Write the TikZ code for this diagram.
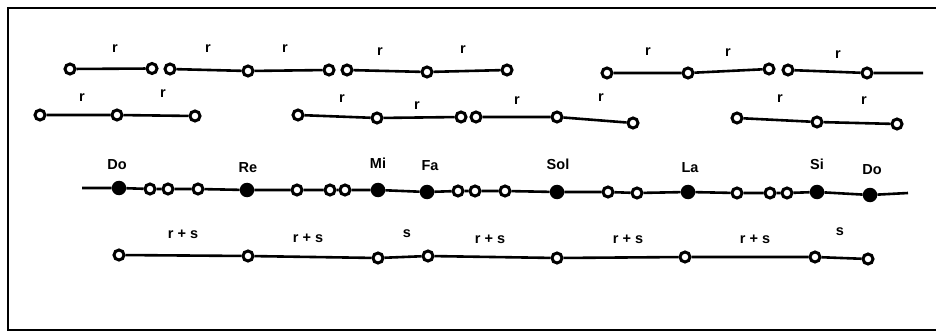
\documentclass[tikz,border=0pt]{standalone}
\usepackage{fontspec}
\setmainfont{Liberation Sans}
\begin{document}
\begin{tikzpicture}[x=1pt,y=-1pt,
  open/.style={circle,draw=black,fill=white,line width=3pt,inner sep=0pt,minimum size=10pt},
  full/.style={circle,fill=black,inner sep=0pt,minimum size=14.5pt},
  seg/.style={line width=2.6pt},
  lab/.style={anchor=base,font=\bfseries\fontsize{14.5}{16}\selectfont,inner sep=0pt}]
\useasboundingbox (0,0) rectangle (936,331);
\draw[line width=2.4pt] (950,8) -- (8,8) -- (8,330) -- (950,330);

% Row 1
\node[open] (a1) at (70,69) {};
\node[open] (a2) at (152,68.5) {};
\node[open] (b1) at (170,69) {};
\node[open] (b2) at (248,71) {};
\node[open] (b3) at (329,70) {};
\node[open] (c1) at (347,70) {};
\node[open] (c2) at (427,72) {};
\node[open] (c3) at (507,70) {};
\node[open] (d1) at (607,73) {};
\node[open] (d2) at (688,73) {};
\node[open] (d3) at (769,69) {};
\node[open] (e1) at (788,70) {};
\node[open] (e2) at (867,73) {};
\coordinate (e3) at (923,73);
\draw[seg] (a1) -- (a2);
\draw[seg] (b1) -- (b2) -- (b3);
\draw[seg] (c1) -- (c2) -- (c3);
\draw[seg] (d1) -- (d2) -- (d3);
\draw[seg] (e1) -- (e2) -- (e3);
\node[lab] (r1) at (115,53) {r};
\node[lab] (r2) at (208,53) {r};
\node[lab] (r3) at (285,53) {r};
\node[lab] (r4) at (380,56) {r};
\node[lab] (r5) at (463,54) {r};
\node[lab] (r6) at (648,56) {r};
\node[lab] (r7) at (728,57) {r};
\node[lab] (r8) at (838,59) {r};

% Row 2
\node[open] (f1) at (40,115) {};
\node[open] (f2) at (117,115) {};
\node[open] (f3) at (195,116) {};
\node[open] (g1) at (298,115) {};
\node[open] (g2) at (377,118) {};
\node[open] (g3) at (461,117) {};
\node[open] (h1) at (476,117) {};
\node[open] (h2) at (557,117) {};
\node[open] (h3) at (633,123) {};
\node[open] (i1) at (737,118) {};
\node[open] (i2) at (817,122) {};
\node[open] (i3) at (897,124) {};
\draw[seg] (f1) -- (f2) -- (f3);
\draw[seg] (g1) -- (g2) -- (g3);
\draw[seg] (h1) -- (h2) -- (h3);
\draw[seg] (i1) -- (i2) -- (i3);
\node[lab] (s1) at (82,102) {r};
\node[lab] (s2) at (163,98) {r};
\node[lab] (s3) at (342,103) {r};
\node[lab] (s4) at (417,110) {r};
\node[lab] (s5) at (517,105) {r};
\node[lab] (s6) at (601,102) {r};
\node[lab] (s7) at (780,103) {r};
\node[lab] (s8) at (864,105) {r};

% Row 3
\coordinate (m0) at (82,188);
\node[full] (m1) at (119,188) {};
\node[open] (m2) at (150,189) {};
\node[open] (m3) at (168,189) {};
\node[open] (m4) at (198,189) {};
\node[full] (m5) at (247,190) {};
\node[open] (m6) at (297,190) {};
\node[open] (m7) at (330,190) {};
\node[open] (m8) at (345,190) {};
\node[full] (m9) at (378,190) {};
\node[full] (m10) at (427,192) {};
\node[open] (m11) at (458,191) {};
\node[open] (m12) at (475,191) {};
\node[open] (m13) at (505,191) {};
\node[full] (m14) at (557,192) {};
\node[open] (m15) at (608,192) {};
\node[open] (m16) at (637,193) {};
\node[full] (m17) at (688,192) {};
\node[open] (m18) at (737,193) {};
\node[open] (m19) at (770,193) {};
\node[open] (m20) at (787,193) {};
\node[full] (m21) at (817,192) {};
\node[full] (m22) at (870,195) {};
\coordinate (m23) at (908,193);
\draw[seg] (m0) -- (m1) -- (m2) -- (m3) -- (m4) -- (m5) -- (m6) -- (m7) -- (m8) -- (m9) -- (m10) -- (m11) -- (m12) -- (m13) -- (m14) -- (m15) -- (m16) -- (m17) -- (m18) -- (m19) -- (m20) -- (m21) -- (m22) -- (m23);
\node[lab] (t1) at (117,170) {Do};
\node[lab] (t2) at (248,172) {Re};
\node[lab] (t3) at (378,168) {Mi};
\node[lab] (t4) at (430,171) {Fa};
\node[lab] (t5) at (558,170) {Sol};
\node[lab] (t6) at (690,172) {La};
\node[lab] (t7) at (817,170) {Si};
\node[lab] (t8) at (872,175) {Do};

% Row 4
\node[open] (n1) at (119,255) {};
\node[open] (n2) at (248,256) {};
\node[open] (n3) at (378,258) {};
\node[open] (n4) at (428,256) {};
\node[open] (n5) at (557,258) {};
\node[open] (n6) at (685,257) {};
\node[open] (n7) at (815,257) {};
\node[open] (n8) at (868,259) {};
\draw[seg] (n1) -- (n2) -- (n3) -- (n4) -- (n5) -- (n6) -- (n7) -- (n8);
\node[lab] (u1) at (183,238) {r + s};
\node[lab] (u2) at (308,242) {r + s};
\node[lab] (u3) at (407,237) {s};
\node[lab] (u4) at (490,243) {r + s};
\node[lab] (u5) at (628,243) {r + s};
\node[lab] (u6) at (755,243) {r + s};
\node[lab] (u7) at (840,235) {s};
\end{tikzpicture}
\end{document}
